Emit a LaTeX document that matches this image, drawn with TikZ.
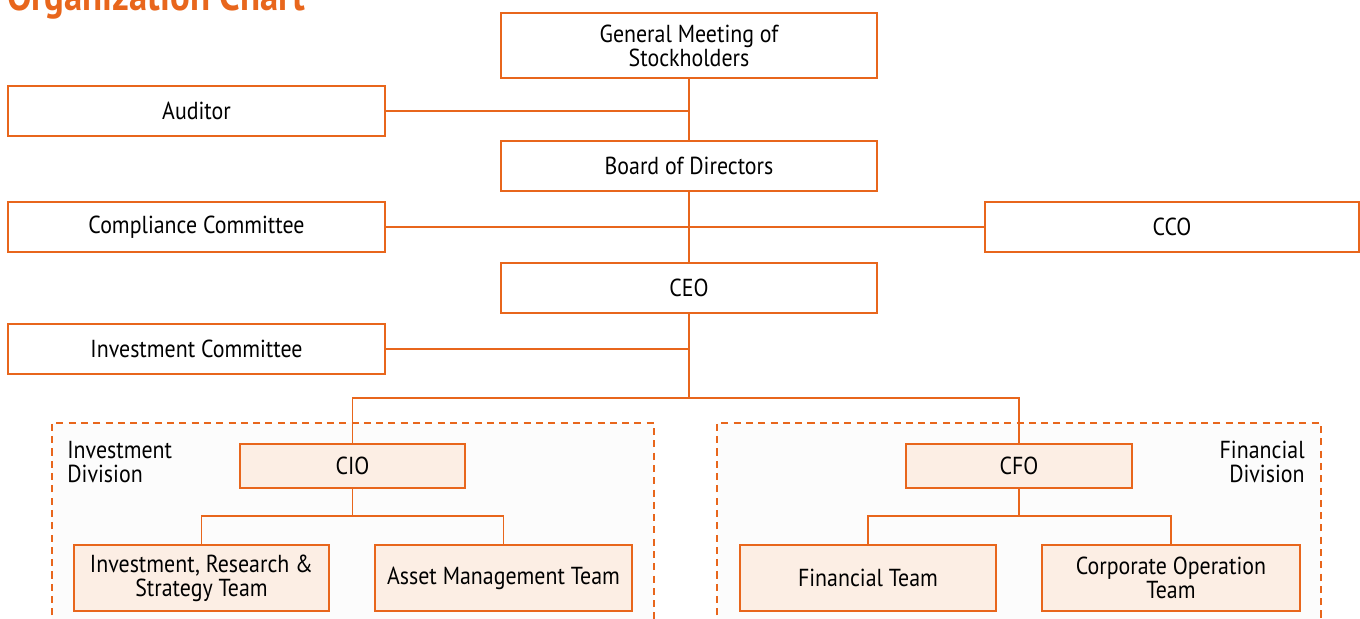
\documentclass[tikz,border=0pt]{standalone}
\usepackage{fontspec}
\setmainfont[FakeStretch=0.89]{PT Sans}
\usetikzlibrary{calc,positioning}
\definecolor{orgorange}{RGB}{232,102,28}
\definecolor{teamfill}{RGB}{252,238,228}
\definecolor{divfill}{RGB}{252,252,252}
\tikzset{
  orgbox/.style={draw=orgorange, line width=1.1pt, fill=white,
    align=center, inner sep=0pt, font=\fontsize{14}{13.7}\selectfont},
  teambox/.style={orgbox, fill=teamfill},
  link/.style={draw=orgorange, line width=0.9pt},
  divframe/.style={draw=orgorange, line width=0.9pt, dash pattern=on 4pt off 3pt, fill=divfill}
}

\begin{document}
\begin{tikzpicture}[x=0.02cm, y=-0.02cm]
      \useasboundingbox (0,0) rectangle (1360,619);

      \node [anchor=base west, text=orgorange, inner sep=0pt,
        font=\fontsize{23.5}{26}\selectfont\bfseries
      ] (title) at (7,10) {Organization Chart};

      % divisions
      \path [divframe] (52,640) |- (654,423) -- (654,640);
      \path [divframe] (717,640) |- (1321,423) -- (1321,640);
      \node [anchor=north west, align=left, inner sep=0pt,
        font=\fontsize{14}{13.7}\selectfont
      ] (invdiv) at (67,441) {Investment\\Division};
      \node [anchor=north east, align=right, inner sep=0pt,
        font=\fontsize{14}{13.7}\selectfont
      ] (findiv) at (1305,441) {Financial\\Division};

      % top of the chart
      \node [orgbox,
        minimum width=7.52cm, minimum height=1.3cm
      ] (gms) at (689,45.5) {General Meeting of\\Stockholders};

      \node [orgbox,
        minimum width=7.54cm, minimum height=1cm
      ] (auditor) at (196.5,111) {Auditor};

      \node [orgbox,
        minimum width=7.52cm, minimum height=1cm
      ] (board) at (689,166) {Board of Directors};

      \node [orgbox,
        minimum width=7.54cm, minimum height=1cm
      ] (compliance) at (196.5,227) {Compliance Committee};

      \node [orgbox,
        minimum width=7.48cm, minimum height=1cm
      ] (cco) at (1172,227) {CCO};

      \node [orgbox,
        minimum width=7.52cm, minimum height=1cm
      ] (ceo) at (689,288) {CEO};

      \node [orgbox,
        minimum width=7.54cm, minimum height=1cm
      ] (invcom) at (196.5,349) {Investment Committee};

      % divisions heads and teams
      \node [teambox,
        minimum width=4.5cm, minimum height=0.88cm
      ] (cio) at (352.5,466) {CIO};

      \node [teambox,
        minimum width=4.52cm, minimum height=0.88cm
      ] (cfo) at (1019,466) {CFO};

      \node [teambox,
        minimum width=5.1cm, minimum height=1.32cm
      ] (irs) at (201.5,578) {Investment, Research \&\\Strategy Team};

      \node [teambox,
        minimum width=5.14cm, minimum height=1.32cm
      ] (asset) at (503.5,578) {Asset Management Team};

      \node [teambox,
        minimum width=5.12cm, minimum height=1.32cm
      ] (finteam) at (868,578) {Financial Team};

      \node [teambox,
        minimum width=5.16cm, minimum height=1.32cm
      ] (corpop) at (1171,578) {Corporate Operation\\Team};

      \coordinate (ceosplit) at (689,398);
      \coordinate (ciosplit) at (352.5,516);
      \coordinate (cfosplit) at (1019,516);

      \draw [link] (gms.south) -- (board.north);
      \draw [link] (auditor.east) -- (auditor.east -| gms.south);
      \draw [link] (board.south) -- (ceo.north);
      \draw [link] (compliance.east) -- (cco.west);
      \draw [link] (ceo.south) -- (ceosplit);
      \draw [link] (invcom.east) -- (invcom.east -| ceo.south);
      \draw [link] (ceosplit) -| (cio.north);
      \draw [link] (ceosplit) -| (cfo.north);
      \draw [link] (cio.south) -- (ciosplit);
      \draw [link] (ciosplit) -| (irs.north);
      \draw [link] (ciosplit) -| (asset.north);
      \draw [link] (cfo.south) -- (cfosplit);
      \draw [link] (cfosplit) -| (finteam.north);
      \draw [link] (cfosplit) -| (corpop.north);
    \end{tikzpicture}
\end{document}
